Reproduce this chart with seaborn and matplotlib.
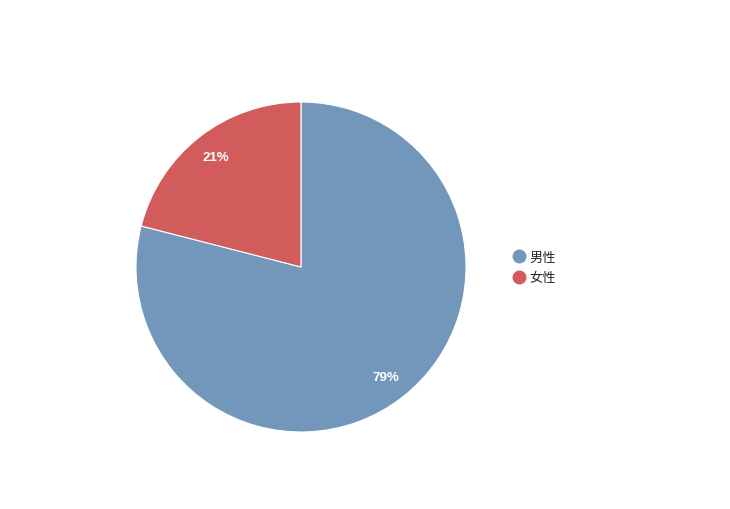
import matplotlib
matplotlib.use("Agg")
import matplotlib.pyplot as plt
from matplotlib.lines import Line2D
import seaborn as sns

categories = ["男性", "女性"]
values = [79, 21]
colors = ["#7396BB", "#D15C5B"]

sns.set_theme(style="white")
plt.rcParams['font.family'] = ['Noto Sans CJK SC', 'DejaVu Sans']

fig = plt.figure(figsize=(7.3, 5.1), dpi=100)
ax = fig.add_axes([136/730, 77/510, 330/730, 330/510])
wedges, texts, autotexts = ax.pie(
    values, colors=colors, startangle=90, counterclock=False,
    autopct=lambda p: f"{p:.0f}%", pctdistance=0.84,
    wedgeprops=dict(edgecolor="white", linewidth=0.8),
    textprops=dict(color="white", fontsize=9.5, fontweight="bold",
                   family=['Liberation Sans', 'DejaVu Sans']),
)
ax.set_aspect("equal")
ax.set_xlim(-1, 1)
ax.set_ylim(-1, 1)
ax.axis("off")

handles = [Line2D([0], [0], marker="o", linestyle="", markersize=9,
                  markerfacecolor=c, markeredgecolor=c) for c in colors]
fig.legend(handles, categories, loc="center left",
           bbox_to_anchor=(499/730, 1 - 268.5/510), frameon=False,
           fontsize=9.5, handletextpad=0.2, labelspacing=0.6,
           handlelength=1.2)

fig.savefig("out.png", dpi=100, facecolor="white")
